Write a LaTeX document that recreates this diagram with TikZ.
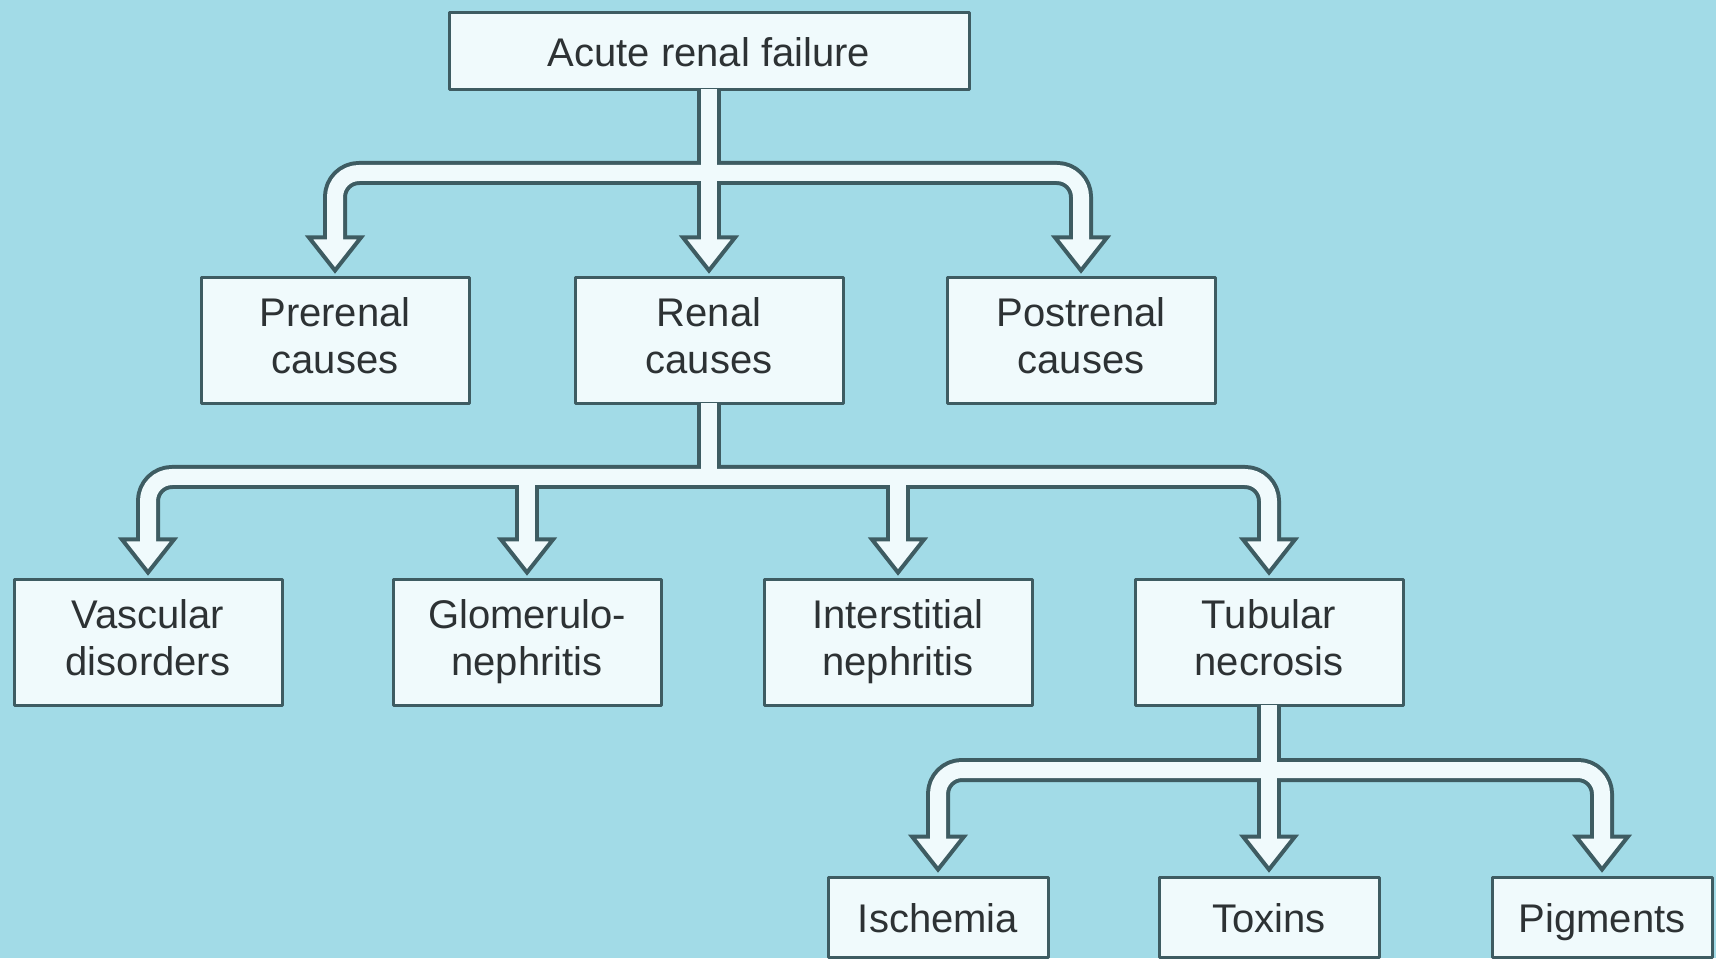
\documentclass[tikz,border=0pt]{standalone}
\usepackage{fontspec}
\setmainfont{Liberation Sans}
\usetikzlibrary{calc}

\definecolor{bgblue}{RGB}{162,219,231}
\definecolor{edge}{RGB}{62,92,98}
\definecolor{boxfill}{RGB}{240,250,252}
\definecolor{txt}{RGB}{45,50,52}

\newcommand{\boxstrut}{\rule[-5pt]{0pt}{25pt}}

\begin{document}
\begin{tikzpicture}[x=0.5pt, y=0.5pt, line join=round,
	box/.style={draw=edge, line width=1.5pt, fill=boxfill, text=txt,
		font=\fontsize{20}{23.5}\selectfont, align=center, inner sep=0pt,
		minimum width=134pt, minimum height=63pt,
		execute at begin node=\boxstrut, execute at end node=\boxstrut},
	small/.style={box, minimum width=110pt, minimum height=40pt},
	pipeedge/.style={draw=edge, line width=12pt, rounded corners=12pt},
	pipefill/.style={draw=boxfill, line width=8pt, rounded corners=12pt},
	pipehead/.style={draw=edge, line width=2pt, fill=boxfill, line join=miter}]
	
	\useasboundingbox (0,0) rectangle (1716,958);
	\fill[bgblue] (0,0) rectangle (1716,958);
	
	% Boxes
	\node[box, minimum width=260pt, minimum height=38.5pt] (acute) at (709,906.5) {Acute renal failure};
	
	\node[box] (pre)  at (335,617)  {Prerenal\\causes};
	\node[box] (ren)  at (709,617)  {Renal\\causes};
	\node[box] (post) at (1081,617) {Postrenal\\causes};
	
	\node[box] (vas) at (148,315)  {Vascular\\disorders};
	\node[box] (glo) at (527,315)  {Glomerulo-\\nephritis};
	\node[box] (int) at (898,315)  {Interstitial\\nephritis};
	\node[box] (tub) at (1269,315) {Tubular\\necrosis};
	
	\node[small] (isc) at (938,41)  {Ischemia};
	\node[small] (tox) at (1269,41) {Toxins};
	\node[small] (pig) at (1602,41) {Pigments};
	
	\coordinate (bus1) at (709,785);
	\coordinate (bus2) at (709,481);
	\coordinate (bus3) at (1269,188);
	
	% Pipes: dark outline first
	\draw[pipeedge] ([yshift=19.5pt]pre.north) |- (post.north |- bus1) -- ([yshift=19.5pt]post.north);
	\draw[pipeedge] (acute.south) -- ([yshift=19.5pt]ren.north);
	
	\draw[pipeedge] ([yshift=19.5pt]vas.north) |- (tub.north |- bus2) -- ([yshift=19.5pt]tub.north);
	\draw[pipeedge] (ren.south) -- (bus2);
	\draw[pipeedge] (glo.north |- bus2) -- ([yshift=19.5pt]glo.north);
	\draw[pipeedge] (int.north |- bus2) -- ([yshift=19.5pt]int.north);
	
	\draw[pipeedge] ([yshift=19.5pt]isc.north) |- (pig.north |- bus3) -- ([yshift=19.5pt]pig.north);
	\draw[pipeedge] (tub.south) -- ([yshift=19.5pt]tox.north);
	
	% Heads
	\foreach \n in {pre,ren,post,vas,glo,int,tub,isc,tox,pig}
		\draw[pipehead] ([yshift=3pt]\n.north) -- ++(-13pt,16.5pt) -- ++(26pt,0) -- cycle;
	
	% Pipes: white inside
	\draw[pipefill] ([yshift=16pt]pre.north) |- (post.north |- bus1) -- ([yshift=16pt]post.north);
	\draw[pipefill] ([yshift=1pt]acute.south) -- ([yshift=16pt]ren.north);
	
	\draw[pipefill] ([yshift=16pt]vas.north) |- (tub.north |- bus2) -- ([yshift=16pt]tub.north);
	\draw[pipefill] ([yshift=1pt]ren.south) -- (bus2);
	\draw[pipefill] (glo.north |- bus2) -- ([yshift=16pt]glo.north);
	\draw[pipefill] (int.north |- bus2) -- ([yshift=16pt]int.north);
	
	\draw[pipefill] ([yshift=16pt]isc.north) |- (pig.north |- bus3) -- ([yshift=16pt]pig.north);
	\draw[pipefill] ([yshift=1pt]tub.south) -- ([yshift=16pt]tox.north);
	
\end{tikzpicture}
\end{document}
